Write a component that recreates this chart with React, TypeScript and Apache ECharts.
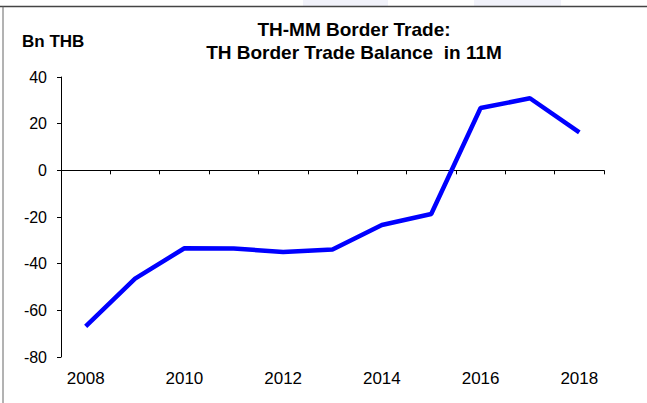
import React, { useEffect, useRef } from "react";
import * as echarts from "echarts";

const years = ["2008", "2009", "2010", "2011", "2012", "2013", "2014", "2015", "2016", "2017", "2018"];
const balance = [-66.9, -46.4, -33.4, -33.5, -35.0, -33.9, -23.4, -18.7, 26.7, 30.9, 16.3];
const yMin = -80;
const yMax = 40;
const yStep = 20;
const titleLines = ["TH-MM Border Trade:", "TH Border Trade Balance  in 11M"];
const unitLabel = "Bn THB";

const FONT = "'Liberation Sans', Arial, Helvetica, sans-serif";

export default function App() {
  const ref = useRef<HTMLDivElement>(null);
  useEffect(() => {
    if (!ref.current) return;
    const chart = echarts.init(ref.current, null, { renderer: "svg" });
    chart.setOption({
      animation: false,
      backgroundColor: "#ffffff",
      grid: { left: 61, right: 43, top: 77, bottom: 46, containLabel: false },
      xAxis: [
        {
          type: "category",
          data: years,
          position: "bottom",
          boundaryGap: true,
          axisLine: { show: false, onZero: false },
          axisTick: { show: false },
          axisLabel: { interval: 1, fontSize: 17, color: "#000", fontFamily: FONT, margin: 13 },
          splitLine: { show: false },
        },
        {
          type: "category",
          data: years,
          position: "bottom",
          boundaryGap: true,
          axisLine: { show: true, onZero: true, lineStyle: { color: "#000", width: 1 } },
          axisTick: { show: true, interval: 0, length: 4, lineStyle: { color: "#000", width: 1 } },
          axisLabel: { show: false },
          splitLine: { show: false },
        },
      ],
      yAxis: {
        type: "value",
        min: yMin,
        max: yMax,
        interval: yStep,
        axisLine: { show: true, lineStyle: { color: "#000", width: 1 } },
        axisTick: { show: true, length: 4, lineStyle: { color: "#000", width: 1 } },
        axisLabel: { fontSize: 16, color: "#000", fontFamily: FONT, margin: 14 },
        splitLine: { show: false },
      },
      graphic: [
        { type: "rect", shape: { x: 303, y: 0, width: 85, height: 6 }, style: { fill: "#f1f2fa" }, silent: true },
        { type: "rect", shape: { x: 474, y: 0, width: 87, height: 6 }, style: { fill: "#f1f2fa" }, silent: true },
        { type: "line", shape: { x1: 0, y1: 6.5, x2: 647, y2: 6.5 }, style: { stroke: "#444", lineWidth: 1.5 }, silent: true },
        { type: "line", shape: { x1: 3, y1: 6.5, x2: 3, y2: 403 }, style: { stroke: "#666", lineWidth: 1 }, silent: true },
        {
          type: "text",
          x: 354,
          y: 29,
          style: { text: titleLines[0], fontSize: 19, fontWeight: "bold", fontFamily: FONT, fill: "#000", textAlign: "center", textVerticalAlign: "middle" },
        },
        {
          type: "text",
          x: 354,
          y: 52,
          style: { text: titleLines[1], fontSize: 19, fontWeight: "bold", fontFamily: FONT, fill: "#000", textAlign: "center", textVerticalAlign: "middle" },
        },
        {
          type: "text",
          x: 22,
          y: 41,
          style: { text: unitLabel, fontSize: 17, fontWeight: "bold", fontFamily: FONT, fill: "#000", textAlign: "left", textVerticalAlign: "middle" },
        },
      ],
      series: [
        {
          type: "line",
          xAxisIndex: 0,
          data: balance,
          symbol: "none",
          lineStyle: { color: "#0000ff", width: 4.5 },
          itemStyle: { color: "#0000ff" },
        },
      ],
    });
    return () => chart.dispose();
  }, []);
  return (
    <div
      ref={ref}
      style={{ position: "fixed", left: 0, top: 0, width: 647, height: 403 }}
    />
  );
}
